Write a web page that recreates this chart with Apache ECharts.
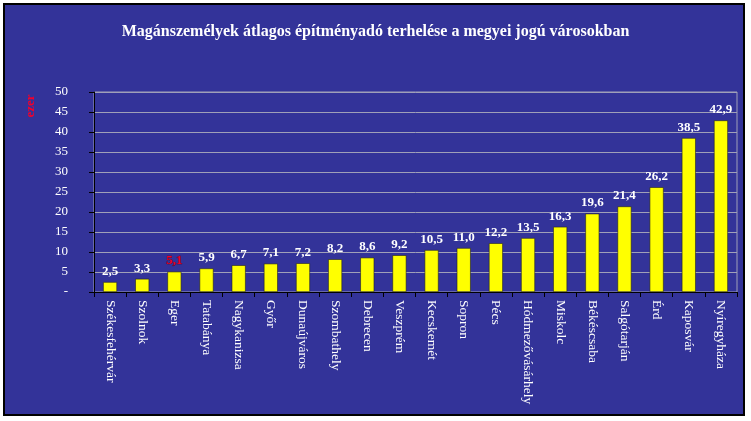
<!DOCTYPE html>
<html>
<head>
<meta charset="utf-8">
<script src="https://cdn.jsdelivr.net/npm/echarts@6/dist/echarts.min.js"></script>
<style>
    body { margin: 0; background: #fff; }
    #frame { position: absolute; left: 3px; top: 3px; width: 742px; height: 413px; box-sizing: border-box; border: 2px solid #000; background: #333399; }
    #container { position: absolute; left: 0; top: 0; width: 751px; height: 421px; }
</style>
</head>
<body>
<div id="frame"></div>
<div id="container"></div>
<script type="text/javascript">
    // városok és az átlagos terhelés (ezer Ft)
    var varosok = ['Székesfehérvár', 'Szolnok', 'Eger', 'Tatabánya', 'Nagykanizsa', 'Győr', 'Dunaújváros',
        'Szombathely', 'Debrecen', 'Veszprém', 'Kecskemét', 'Sopron', 'Pécs', 'Hódmezővásárhely',
        'Miskolc', 'Békéscsaba', 'Salgótarján', 'Érd', 'Kaposvár', 'Nyíregyháza'];
    var terheles = [2.5, 3.3, 5.1, 5.9, 6.7, 7.1, 7.2, 8.2, 8.6, 9.2, 10.5, 11.0, 12.2, 13.5, 16.3, 19.6, 21.4, 26.2, 38.5, 42.9];
    var kiemelt = 'Eger';
    var cim = 'Magánszemélyek átlagos építményadó terhelése a megyei jogú városokban';
    var egyseg = 'ezer';

    var myChart = echarts.init(document.getElementById('container'));

    var adatok = terheles.map(function (v, i) {
        var d = { value: v };
        if (varosok[i] === kiemelt) {
            d.label = { color: '#F0002E', fontWeight: 'bold', fontSize: 13, fontFamily: 'Liberation Serif',
                textBorderColor: '#5a0010', textBorderWidth: 0.6 };
        }
        return d;
    });

    var option = {
        backgroundColor: 'transparent',
        animation: false,
        title: {
            text: cim,
            left: 'center',
            top: 19,
            textStyle: { color: '#fff', fontFamily: 'Liberation Serif', fontWeight: 'bold', fontSize: 16 }
        },
        graphic: [{
            type: 'text',
            x: 31, y: 106,
            rotation: Math.PI / 2,
            style: {
                text: egyseg, fill: '#F0002E', font: 'bold 13px "Liberation Serif"',
                align: 'center', verticalAlign: 'middle'
            }
        }],
        grid: {
            left: 94, right: 14, top: 92, bottom: 129,
            show: true, borderColor: '#A0A0B8', borderWidth: 1, backgroundColor: 'transparent'
        },
        xAxis: {
            type: 'category',
            data: varosok,
            axisLine: { lineStyle: { color: '#000', width: 1 } },
            axisTick: { show: true, length: 5, lineStyle: { color: '#000' } },
            axisLabel: {
                rotate: -90, interval: 0, margin: 8,
                color: '#fff', fontFamily: 'Liberation Serif', fontSize: 13.5
            }
        },
        yAxis: {
            type: 'value',
            min: 0, max: 50, interval: 5,
            axisLine: { show: true, lineStyle: { color: '#000', width: 1 } },
            axisTick: { show: true, inside: false, length: 5, lineStyle: { color: '#000' } },
            axisLabel: {
                color: '#fff', fontFamily: 'Liberation Serif', fontSize: 13, margin: 26,
                formatter: function (v) { return v === 0 ? '-' : String(v); }
            },
            splitLine: { lineStyle: { color: '#A0A0B8', width: 1 } }
        },
        series: [{
            type: 'bar',
            data: adatok,
            barWidth: 14,
            itemStyle: { color: '#FFFF00', borderColor: '#222', borderWidth: 0.6 },
            label: {
                show: true, position: 'top', distance: 4,
                color: '#fff', fontFamily: 'Liberation Serif', fontWeight: 'bold', fontSize: 13,
                formatter: function (p) { return p.value.toFixed(1).replace('.', ','); }
            }
        }]
    };

    myChart.setOption(option);
</script>
</body>
</html>
